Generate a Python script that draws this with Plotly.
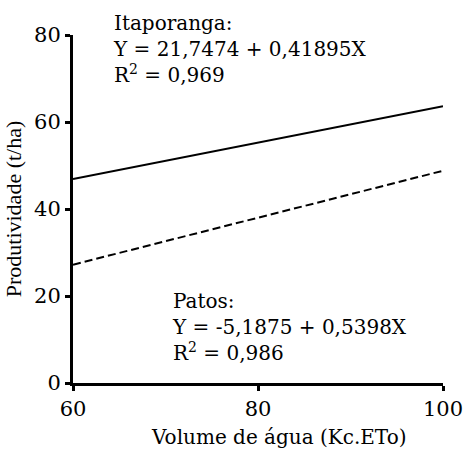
import plotly.graph_objects as go

x_vals = [60, 100]
itap_a, itap_b = 21.7474, 0.41895
patos_a, patos_b = -5.1875, 0.5398
itap_y = [itap_a + itap_b * x for x in x_vals]
patos_y = [patos_a + patos_b * x for x in x_vals]

x_ticks = [60, 80, 100]
y_ticks = [0, 20, 40, 60, 80]

itap_text = "Itaporanga:<br>Y = 21,7474 + 0,41895X<br>R<sup>2</sup> = 0,969"
patos_text = "Patos:<br>Y = -5,1875 + 0,5398X<br>R<sup>2</sup> = 0,986"
x_title = "Volume de água (Kc.ETo)"
y_title = "Produtividade (t/ha)"

wide = "DejaVu Serif, serif"
narrow = "Liberation Serif, serif"
FA = dict(family=wide, size=20, color="black")
FT = dict(family=wide, size=21, color="black")

fig = go.Figure()
fig.add_trace(go.Scatter(x=x_vals, y=itap_y, mode="lines",
                         line=dict(color="black", width=2), showlegend=False))
fig.add_trace(go.Scatter(x=x_vals, y=patos_y, mode="lines",
                         line=dict(color="black", width=2, dash="8px,4px"), showlegend=False))

fig.add_annotation(x=64.1, y=0.9597, xref="x", yref="paper", xanchor="left", yanchor="middle",
                   align="left", showarrow=False, text=itap_text, font=FA)
fig.add_annotation(x=70.5, y=0.1614, xref="x", yref="paper", xanchor="left", yanchor="middle",
                   align="left", showarrow=False, text=patos_text, font=FA)
fig.add_annotation(x=0.557, y=-0.1545, xref="paper", yref="paper", xanchor="center", yanchor="middle",
                   showarrow=False, text=x_title, font=dict(family=wide, size=20, color="black"))

fig.update_layout(
    width=465, height=450,
    margin=dict(l=73, r=22, t=35, b=67),
    plot_bgcolor="white", paper_bgcolor="white",
    font=FT,
    xaxis=dict(range=[60, 100], tickvals=x_ticks, showgrid=False, zeroline=False,
               showline=True, linecolor="black", linewidth=3, automargin=False,
               ticks="outside", ticklen=5, tickwidth=3, tickcolor="black",
               tickfont=FT),
    yaxis=dict(range=[0, 80], tickvals=y_ticks, showgrid=False, zeroline=False,
               showline=True, linecolor="black", linewidth=3, automargin=False,
               ticks="outside", ticklen=5, tickwidth=3, tickcolor="black",
               tickfont=FT,
               title=dict(text=y_title,
                          font=dict(family=narrow, size=22, color="black"), standoff=7)),
)

fig.write_html("out.html")
